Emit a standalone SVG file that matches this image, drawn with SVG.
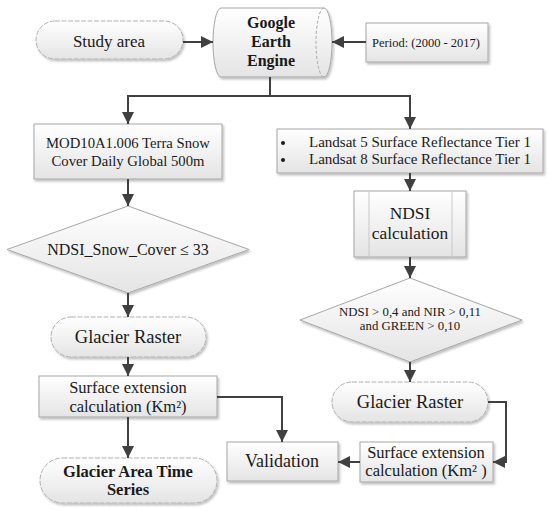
<svg xmlns="http://www.w3.org/2000/svg" width="550" height="511" viewBox="0 0 550 511">
<defs>
<linearGradient id="g" x1="0" y1="0" x2="0" y2="1">
<stop offset="0" stop-color="#ffffff"/>
<stop offset="1" stop-color="#e4e4e4"/>
</linearGradient>
<filter id="sh" x="-10%" y="-10%" width="130%" height="140%">
<feDropShadow dx="1.5" dy="2" stdDeviation="1.2" flood-color="#000" flood-opacity="0.25"/>
</filter>
<marker id="ar" markerUnits="userSpaceOnUse" markerWidth="14" markerHeight="12" refX="12" refY="6" orient="auto">
<path d="M0,0 L12,6 L0,12 Z" fill="#404040"/>
</marker>
</defs>
<style>
.box{fill:url(#g);stroke:#a6a6a6;stroke-width:1;filter:url(#sh)}
.stad{fill:url(#g);stroke:#b0b0b0;stroke-width:1;stroke-dasharray:5 1.5;filter:url(#sh)}
.t{font-family:"Liberation Serif",serif;fill:#1a1a1a;text-anchor:middle}
.s{text-anchor:start}
.b{font-weight:bold}
.c{fill:none;stroke:#404040;stroke-width:2}
.ca{fill:none;stroke:#404040;stroke-width:2;marker-end:url(#ar)}
</style>

<g id="study-area">
<rect class="stad" x="36" y="21" width="147" height="38" rx="19"/>
<text class="t" x="109" y="47" font-size="17">Study area</text>
</g>

<g id="gee">
<path class="box" d="M221,8 L324,8 A8,34.5 0 0 1 324,77 L221,77 A8,34.5 0 0 1 221,8 Z"/>
<path d="M324,8 A8,34.5 0 0 0 324,77" fill="none" stroke="#a6a6a6" stroke-dasharray="3 2"/>
<text class="t b" x="271" y="28" font-size="16">Google</text>
<text class="t b" x="271" y="47" font-size="16">Earth</text>
<text class="t b" x="271" y="66" font-size="16">Engine</text>
</g>

<g id="period">
<rect class="box" x="366" y="23" width="122" height="39"/>
<text class="t" x="426" y="47" font-size="12.5">Period: (2000 - 2017)</text>
</g>

<g id="mod10">
<rect class="box" x="34" y="124" width="188" height="55"/>
<text class="t" x="128" y="148" font-size="14.7">MOD10A1.006 Terra Snow</text>
<text class="t" x="128" y="166" font-size="14.7">Cover Daily Global 500m</text>
</g>

<g id="ndsi-snow">
<polygon class="box" points="128,206 249,249.5 128,293 7,249.5"/>
<text class="t" x="128" y="255" font-size="16">NDSI_Snow_Cover ≤ 33</text>
</g>

<g id="glacier-raster-left">
<rect class="stad" x="51" y="317" width="155" height="40" rx="20"/>
<text class="t" x="128" y="343" font-size="18.5">Glacier Raster</text>
</g>

<g id="surface-left">
<rect class="box" x="39" y="376" width="178" height="41"/>
<text class="t" x="128" y="393" font-size="16.5">Surface extension</text>
<text class="t" x="128" y="412" font-size="16.5">calculation (Km²)</text>
</g>

<g id="time-series">
<rect class="stad" x="40" y="458" width="177" height="45" rx="22.5"/>
<text class="t b" x="128" y="477" font-size="16.5">Glacier Area Time</text>
<text class="t b" x="128" y="495" font-size="16.5">Series</text>
</g>

<g id="validation">
<rect class="box" x="227" y="442" width="111" height="39"/>
<text class="t" x="282" y="467" font-size="18">Validation</text>
</g>

<g id="landsat">
<rect class="box" x="277" y="129" width="266" height="44"/>
<circle cx="283" cy="143" r="2" fill="#1a1a1a"/>
<circle cx="283" cy="160" r="2" fill="#1a1a1a"/>
<text class="t s" x="309" y="147" font-size="15">Landsat 5 Surface Reflectance Tier 1</text>
<text class="t s" x="309" y="164" font-size="15">Landsat 8 Surface Reflectance Tier 1</text>
</g>

<g id="ndsi-calc">
<rect class="box" x="354" y="191" width="112" height="66"/>
<line x1="369" y1="191" x2="369" y2="257" stroke="#c8c8c8"/>
<line x1="452" y1="191" x2="452" y2="257" stroke="#c8c8c8"/>
<text class="t" x="410" y="219" font-size="17.4">NDSI</text>
<text class="t" x="410" y="239" font-size="17.4">calculation</text>
</g>

<g id="ndsi-threshold">
<polygon class="box" points="410,278 522,320 410,362 300,320"/>
<text class="t" x="410" y="316" font-size="12.8">NDSI &gt; 0,4 and NIR &gt; 0,11</text>
<text class="t" x="410" y="330" font-size="12.8">and GREEN &gt; 0,10</text>
</g>

<g id="glacier-raster-right">
<rect class="stad" x="332" y="382" width="156" height="40" rx="20"/>
<text class="t" x="410" y="408" font-size="18.5">Glacier Raster</text>
</g>

<g id="surface-right">
<rect class="box" x="360" y="442" width="133" height="40"/>
<text class="t" x="426" y="458" font-size="16.5">Surface extension</text>
<text class="t" x="426" y="476" font-size="16.5">calculation (Km² )</text>
</g>

<g id="connectors">
<path class="ca" d="M183,42 L213,42"/>
<path class="ca" d="M366,42 L332,42"/>
<path class="c" d="M270,77 L270,96"/>
<path class="c" d="M127,96 L411,96"/>
<path class="ca" d="M128,95 L128,124"/>
<path class="ca" d="M410,95 L410,129"/>
<path class="ca" d="M128,179 L128,206"/>
<path class="ca" d="M128,293 L128,317"/>
<path class="ca" d="M128,357 L128,376"/>
<path class="ca" d="M128,417 L128,458"/>
<path class="ca" d="M217,397 L282,397 L282,442"/>
<path class="ca" d="M410,173 L410,191"/>
<path class="ca" d="M410,257 L410,278"/>
<path class="ca" d="M410,362 L410,382"/>
<path class="ca" d="M488,402 L506,402 L506,462 L493,462"/>
<path class="ca" d="M360,462 L338,462"/>
</g>
</svg>
